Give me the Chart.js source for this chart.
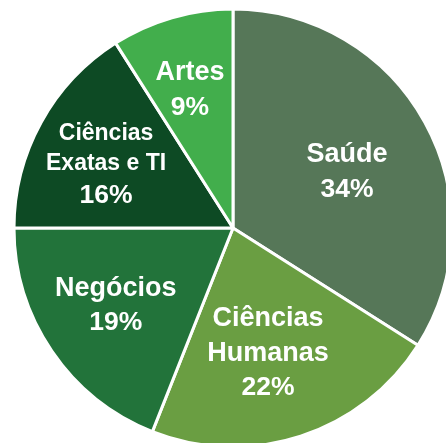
<!DOCTYPE html>
<html>
<head>
<meta charset="utf-8">
<script src="https://cdn.jsdelivr.net/npm/chart.js@4"></script>
<style>
html,body{margin:0;padding:0;background:#fff;overflow:hidden;width:446px;height:443px;}
#wrap{position:absolute;left:0;top:0;width:466px;height:456px;}
</style>
</head>
<body>
<div id="wrap"><canvas id="c" width="466" height="456"></canvas></div>
<script>
const categories = ["Saúde", "Ciências Humanas", "Negócios", "Ciências Exatas e TI", "Artes"];
const labelLines = [["Saúde"], ["Ciências", "Humanas"], ["Negócios"], ["Ciências", "Exatas e TI"], ["Artes"]];
const values = [34, 22, 19, 16, 9];
const colors = ["#567758", "#6a9e42", "#22733a", "#0d4a24", "#42ae4c"];
const labelRadiusFactor = [0.582, 0.588, 0.64, 0.647, 0.664];
const labelAngleOffsetDeg = [2.2, 2.2, 1.0, -2.4, -1.0];
const nameFontSize = [27, 27, 27, 23, 27];

const labelPlugin = {
  id: 'sliceLabels',
  afterDatasetsDraw(chart) {
    const ctx = chart.ctx;
    const meta = chart.getDatasetMeta(0);
    meta.data.forEach((arc, i) => {
      const p = arc.getProps(['x','y','startAngle','endAngle','outerRadius'], true);
      const mid = (p.startAngle + p.endAngle) / 2 + labelAngleOffsetDeg[i] * Math.PI / 180;
      const r = p.outerRadius * labelRadiusFactor[i];
      const cx = p.x + Math.cos(mid) * r;
      const cy = p.y + Math.sin(mid) * r;
      const lines = labelLines[i].map(t => ({t, s: nameFontSize[i]}));
      lines.push({t: values[i] + '%', s: 26.5});
      const lh = lines.map(l => l.s * 1.29);
      const total = lh.reduce((a,b)=>a+b,0);
      let y = cy - total / 2;
      ctx.save();
      ctx.fillStyle = '#ffffff';
      ctx.textAlign = 'center';
      ctx.textBaseline = 'middle';
      lines.forEach((l, k) => {
        ctx.font = 'bold ' + l.s + 'px "Liberation Sans", Arial, sans-serif';
        ctx.fillText(l.t, cx, y + lh[k] / 2 + 1);
        y += lh[k];
      });
      ctx.restore();
    });
  }
};

new Chart(document.getElementById('c'), {
  type: 'pie',
  data: {
    labels: categories,
    datasets: [{
      data: values,
      backgroundColor: colors,
      borderColor: '#ffffff',
      borderWidth: 3
    }]
  },
  options: {
    responsive: false,
    animation: false,
    radius: 219,
    layout: { padding: 0 },
    plugins: { legend: { display: false }, tooltip: { enabled: false } }
  },
  plugins: [labelPlugin]
});
</script>
</body>
</html>
